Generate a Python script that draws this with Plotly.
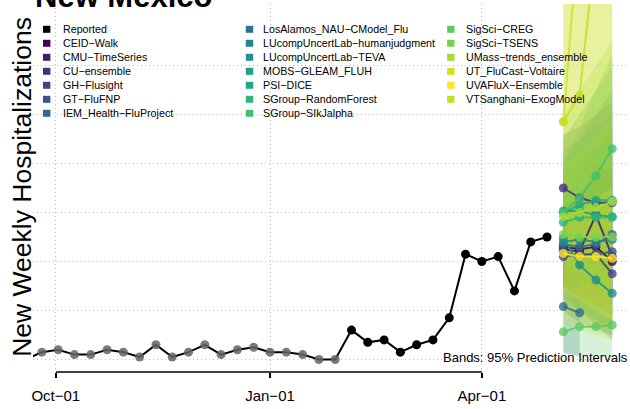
import pandas as pd
import plotly.graph_objects as go

# ---------------- data ----------------
report_dates = pd.date_range("2023-09-18", "2024-04-29", freq="7D")
reported = [0, 3, 4, 2, 2, 4, 3, 1, 6, 1, 3, 6, 2, 4, 5, 3, 3, 2, 0, 0,
            12, 7, 8, 3, 6, 8, 17, 43, 40, 42, 28, 48, 50]
first_black = pd.Timestamp("2024-02-05")

fc_dates = pd.date_range("2024-05-06", "2024-05-27", freq="7D")

models = ["CEID−Walk", "CMU−TimeSeries", "CU−ensemble", "GH−Flusight", "GT−FluFNP",
          "IEM_Health−FluProject", "LosAlamos_NAU−CModel_Flu",
          "LUcompUncertLab−humanjudgment", "LUcompUncertLab−TEVA", "MOBS−GLEAM_FLUH",
          "PSI−DICE", "SGroup−RandomForest", "SGroup−SIkJalpha", "SigSci−CREG",
          "SigSci−TSENS", "UMass−trends_ensemble", "UT_FluCast−Voltaire",
          "UVAFluX−Ensemble", "VTSanghani−ExogModel"]
colors = ["#440154", "#481A6C", "#472F7D", "#414487", "#39568C", "#31688E", "#2C728E",
          "#26828E", "#21908C", "#1F9E89", "#22A884", "#2FB47C", "#44BF70", "#5EC962",
          "#7AD151", "#A5DB36", "#D2E21B", "#FDE725", "#C2DF23"]

median = [
    [46, 45, 46, 40],
    [45, 44, 59, 42],
    [70, 66, 64, 64],
    [42, 43, 43, 35],
    [44, 42, 43, 44],
    [47, 46, 47, 51],
    [21.6, 19.1],
    [48, 49, 48, 49],
    [49.5, 38.6, 32.4, 27],
    [60.6, 60.6, 59, 58.3],
    [60, 63, 65, 65],
    [56, 58, 58, 58],
    [60, 66, 75, 86],
    [11.3, 13.4, 13.4, 14.1],
    [51, 50, 50, 50],
    [58.3, 60, 62, 64.4],
    [97, 180, 230, 280],
    [43.3, 42, 42, 41.3],
    [97, 108, 170, 220],
]
lower = [
    [30, 25, 22, 18], [32, 28, 25, 22], [50, 42, 38, 35], [30, 26, 22, 18],
    [25, 20, 16, 12], [20, 15, 12, 10], [3, 1], [35, 32, 30, 28],
    [30, 20, 14, 8], [40, 36, 32, 28], [35, 30, 28, 25], [38, 34, 30, 28],
    [40, 42, 48, 55], [2, 2, 1, 1], [25, 20, 15, 10], [30, 26, 22, 18],
    [15, 12, 10, 8], [28, 24, 20, 16], [20, 16, 14, 12],
]
upper = [
    [62, 68, 74, 80], [60, 66, 80, 75], [92, 95, 100, 105], [56, 62, 66, 70],
    [65, 75, 85, 95], [80, 90, 100, 110], [45, 50], [62, 66, 68, 72],
    [70, 62, 58, 55], [85, 90, 95, 100], [90, 100, 110, 120], [75, 82, 86, 90],
    [80, 95, 110, 125], [25, 30, 34, 38], [80, 85, 92, 100], [100, 110, 120, 130],
    [160, 250, 320, 400], [60, 62, 66, 70], [150, 200, 260, 330],
]

x_ticks = ["2023-10-01", "2024-01-01", "2024-04-01"]
x_ticklabels = ["Oct−01", "Jan−01", "Apr−01"]
y_grid = [0, 20, 40, 60, 80, 100, 120]

# ---------------- geometry helpers ----------------
W, H = 630, 409
ML, MR, MT, MB = 33, 2, 4, 37
PW, PH = W - ML - MR, H - MT - MB
FONT = "Liberation Sans, Arial, Helvetica, sans-serif"


def px_x(px):
    return (px - ML) / PW


def px_y(py):
    return (H - MB - py) / PH


def hex_rgba(h, a):
    h = h.lstrip("#")
    return "rgba(%d,%d,%d,%.3f)" % (int(h[0:2], 16), int(h[2:4], 16), int(h[4:6], 16), a)


jan1 = pd.Timestamp("2024-01-01")
px_per_day = 2.328
x_left = jan1 - pd.Timedelta(days=(270 - ML) / px_per_day)
x_right = jan1 + pd.Timedelta(days=(W - MR - 270) / px_per_day)
y_bot = (359.5 - (H - MB)) / 2.45
y_top = (359.5 - MT) / 2.45

fig = go.Figure()

# ---------------- prediction bands ----------------
for m, c, lo, up in zip(models, colors, lower, upper):
    d = list(fc_dates[:len(lo)])
    fig.add_trace(go.Scatter(
        x=d + d[::-1], y=list(up) + list(lo)[::-1], fill="toself",
        fillcolor=hex_rgba(c, 0.24), line=dict(width=0), mode="lines",
        hoverinfo="skip", showlegend=False))

# ---------------- forecast medians ----------------
for m, c, med in zip(models, colors, median):
    d = list(fc_dates[:len(med)])
    fig.add_trace(go.Scatter(
        x=d, y=med, mode="lines+markers", name=m,
        line=dict(color=hex_rgba(c, 0.85), width=2),
        marker=dict(color=hex_rgba(c, 0.8), size=9),
        showlegend=False))

# ---------------- reported ----------------
fig.add_trace(go.Scatter(x=report_dates, y=reported, mode="lines",
                         line=dict(color="black", width=2), showlegend=False))
gray_mask = [d < first_black for d in report_dates]
fig.add_trace(go.Scatter(
    x=[d for d, g in zip(report_dates, gray_mask) if g],
    y=[v for v, g in zip(reported, gray_mask) if g],
    mode="markers", marker=dict(color="rgba(100,100,100,0.85)", size=9),
    showlegend=False))
fig.add_trace(go.Scatter(
    x=[d for d, g in zip(report_dates, gray_mask) if not g],
    y=[v for v, g in zip(reported, gray_mask) if not g],
    mode="markers", marker=dict(color="black", size=9), showlegend=False))

# ---------------- annotations / legend ----------------
annotations = []
shapes = []

annotations.append(dict(text="<b>New Mexico</b>", xref="paper", yref="paper",
                        x=px_x(33), y=px_y(15.6), xanchor="left", yanchor="bottom",
                        showarrow=False, font=dict(family=FONT, size=31, color="black")))
annotations.append(dict(text="New Weekly Hospitalizations", xref="paper", yref="paper",
                        x=px_x(21.8), y=px_y(187), xanchor="center", yanchor="middle",
                        textangle=-90, showarrow=False,
                        font=dict(family=FONT, size=26.5, color="black")))
annotations.append(dict(text="Bands: 95% Prediction Intervals", xref="paper", yref="paper",
                        x=px_x(630), y=px_y(357), xanchor="right", yanchor="middle",
                        showarrow=False, font=dict(family=FONT, size=13, color="black")))

legend_names = ["Reported"] + models
legend_colors = ["#000000"] + colors
col_swatch_x = [46.7, 249.5, 450.8]
col_text_x = [61, 261.3, 463.7]
row_y = [29.3, 43.3, 57.3, 71.3, 85.3, 99.3, 113.3]
for i, (n, c) in enumerate(zip(legend_names, legend_colors)):
    col, row = divmod(i, 7)
    sx, sy = col_swatch_x[col], row_y[row]
    shapes.append(dict(type="rect", xref="paper", yref="paper",
                       x0=px_x(sx - 3.7), x1=px_x(sx + 3.7),
                       y0=px_y(sy + 3.5), y1=px_y(sy - 3.5),
                       fillcolor=c, line=dict(width=0)))
    annotations.append(dict(text=n, xref="paper", yref="paper",
                            x=px_x(col_text_x[col]), y=px_y(sy),
                            xanchor="left", yanchor="middle", showarrow=False,
                            font=dict(family=FONT, size=10.7, color="black")))

# x axis line only between first and last tick (base-R style)
shapes.append(dict(type="line", xref="x", yref="paper", x0=x_ticks[0], x1=x_ticks[-1],
                   y0=0, y1=0, line=dict(color="black", width=1.5)))

GRID = dict(showgrid=True, gridcolor="#BBBBBB", griddash="1px,3px", gridwidth=1)

fig.update_layout(
    width=W, height=H, margin=dict(l=ML, r=MR, t=MT, b=MB),
    plot_bgcolor="white", paper_bgcolor="white", showlegend=False,
    font=dict(family=FONT, color="black"),
    annotations=annotations, shapes=shapes,
    xaxis=dict(type="date", range=[x_left, x_right], tickvals=x_ticks,
               ticktext=x_ticklabels, ticks="outside", ticklen=5, tickwidth=1.5,
               tickcolor="black", showline=False, zeroline=False,
               tickfont=dict(family=FONT, size=15, color="black"),
               ticklabelstandoff=5, **GRID),
    yaxis=dict(range=[y_bot, y_top], tickvals=y_grid, showticklabels=False,
               ticks="", showline=False, zeroline=False, **GRID),
)

fig.write_html("out.html", config={"displayModeBar": False},
               post_script="document.body.style.margin='0';document.body.style.padding='0';")
